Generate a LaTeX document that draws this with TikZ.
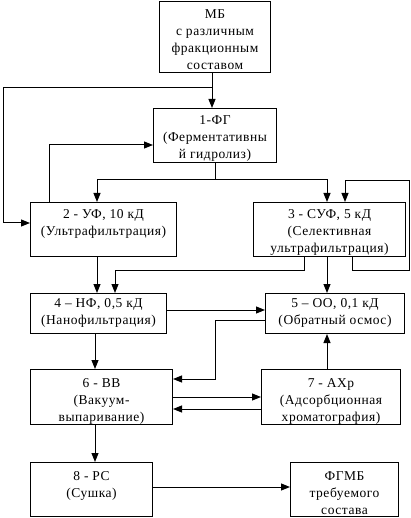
\documentclass[tikz,border=0pt]{standalone}
\usepackage{fontspec}
\setmainfont{Liberation Serif}[LetterSpace=4]
\usetikzlibrary{arrows.meta}
\begin{document}
\begin{tikzpicture}[x=1pt,y=-1pt,
  box/.style={draw,line width=1pt,inner sep=0pt,anchor=north west},
  txt/.style={anchor=north,inner sep=0pt,align=center,font=\fontsize{13.5}{17}\selectfont},
  ln/.style={line width=1pt},
  arr/.style={line width=1pt,-{Triangle[length=9pt,width=7pt]}}]
\useasboundingbox (0,0) rectangle (411,518);
% boxes
\node[box,minimum width=111pt,minimum height=71pt] (mb) at (159,1) {};
\node[box,minimum width=123pt,minimum height=54pt] (f1) at (153,108) {};
\node[box,minimum width=146pt,minimum height=54pt] (b2) at (30,202) {};
\node[box,minimum width=152pt,minimum height=54pt] (b3) at (253,202) {};
\node[box,minimum width=136pt,minimum height=40pt] (b4) at (30,293) {};
\node[box,minimum width=139pt,minimum height=40pt] (b5) at (265,293) {};
\node[box,minimum width=142pt,minimum height=55pt] (b6) at (30,369) {};
\node[box,minimum width=139pt,minimum height=55pt] (b7) at (261,369) {};
\node[box,minimum width=122pt,minimum height=54pt] (b8) at (30,462) {};
\node[box,minimum width=108pt,minimum height=54pt] (b9) at (290,462) {};
% texts
\node[txt] (tmb) at (mb.north |- 0,9.5) {МБ\\с различным\\фракционным\\составом};
\node[txt] (tf1) at (f1.north |- 0,115) {1-ФГ\\(Ферментативны\\й гидролиз)};
\node[txt] (t2) at (b2.north |- 0,209) {2 - УФ, 10 кД\\(Ультрафильтрация)};
\node[txt] (t3) at (b3.north |- 0,209) {3 - СУФ, 5 кД\\(Селективная\\ультрафильтрация)};
\node[txt] (t4) at (b4.north |- 0,298) {4 – НФ, 0,5 кД\\(Нанофильтрация)};
\node[txt] (t5) at (b5.north |- 0,298) {5 – ОО, 0,1 кД\\(Обратный осмос)};
\node[txt] (t6) at (b6.north |- 0,378) {6 - ВВ\\(Вакуум-\\выпаривание)};
\node[txt] (t7) at (b7.north |- 0,378) {7 - АХр\\(Адсорбционная\\хроматография)};
\node[txt] (t8) at (b8.north |- 0,471) {8 - РС\\(Сушка)};
\node[txt] (t9) at (b9.north |- 0,471) {ФГМБ\\требуемого\\состава};
% connectors
\draw[arr] (mb.south -| 212,0) -- (f1.north -| 212,0);
\coordinate (j1) at (212,88);
\draw[arr] (j1) -- (3,88) -- (3,223) -- (b2.west |- 0,223);
\draw[arr] (b2.north -| 49,0) |- (f1.west |- 0,145);
\coordinate (j2) at (215,180);
\draw[ln] (f1.south -| 215,0) -- (j2);
\draw[arr] (j2) -| (b2.north -| 97,0);
\draw[arr] (j2) -| (b3.north -| 327,0);
\draw[arr] (b3.south -| 352,0) -- (352,270) -- (409,270) -- (409,181) -- (345,181) -- (b3.north -| 345,0);
\draw[arr] (b3.south -| 304,0) -- (304,270) -- (115,270) -- (b4.north -| 115,0);
\draw[arr] (b2.south -| 97,0) -- (b4.north -| 97,0);
\draw[arr] (b3.south -| 327,0) -- (b5.north -| 327,0);
\draw[arr] (b4.east |- 0,310) -- (b5.west |- 0,310);
\draw[arr] (b5.west |- 0,320) -- (215,320) -- (215,379) -- (b6.east |- 0,379);
\draw[arr] (b4.south -| 95,0) -- (b6.north -| 95,0);
\draw[arr] (b7.north -| 327,0) -- (b5.south -| 327,0);
\draw[arr] (b6.east |- 0,397) -- (b7.west |- 0,397);
\draw[arr] (b7.west |- 0,409) -- (b6.east |- 0,409);
\draw[arr] (b6.south -| 95,0) -- (b8.north -| 95,0);
\draw[arr] (b8.east |- 0,487) -- (b9.west |- 0,487);
\end{tikzpicture}
\end{document}
